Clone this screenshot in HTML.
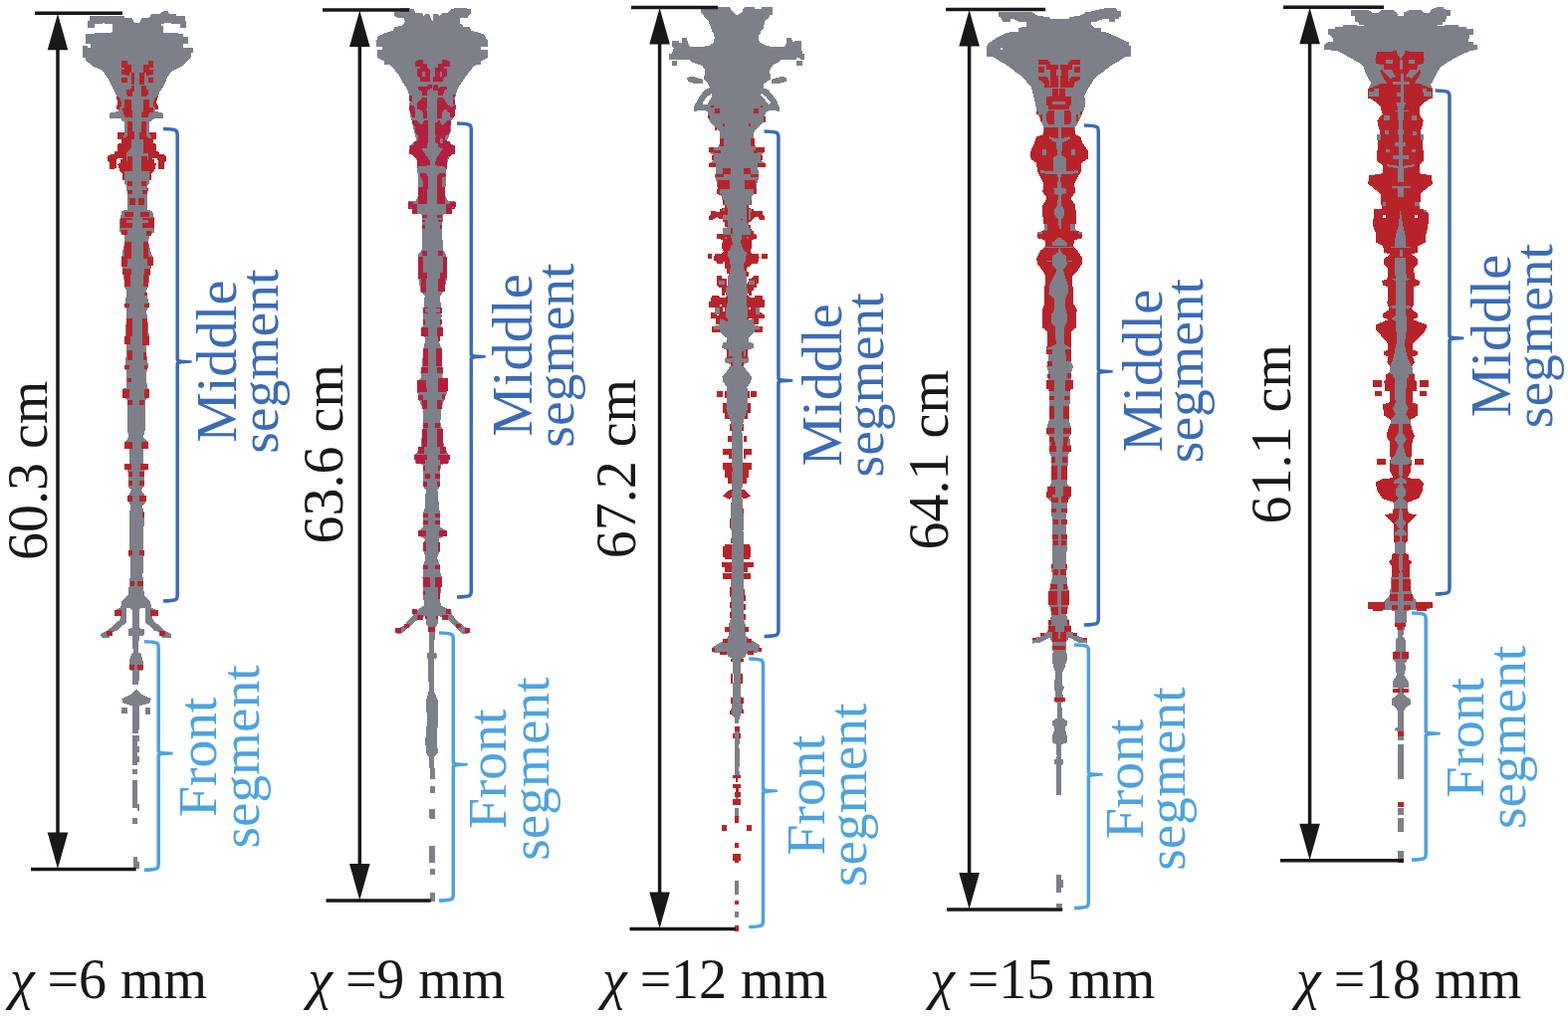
<!DOCTYPE html>
<html><head><meta charset="utf-8"><title>figure</title>
<style>
html,body{margin:0;padding:0;background:#fff;}
body{width:1575px;height:1024px;overflow:hidden;}
svg{display:block;font-family:"Liberation Serif",serif;}
</style></head><body>
<svg width="1575" height="1024" viewBox="0 0 1575 1024">
<rect width="1575" height="1024" fill="#fff"/>
<g id="jets" shape-rendering="crispEdges">
<g id="jet1">
<polygon points="90.2,16.4 90.2,21.1 88.2,21.5 88.2,27.8 94.9,27.8 94.9,23.9 102.8,23.5 103.6,22.7 105.1,23.9 113,23.9 113,31 111.8,32.9 98,33.3 86.2,34.1 86.2,43.6 91,43.6 91,48.1 87.8,48.1 87.8,46.3 83.2,46.3 83.2,57.7 86.2,58.5 86.2,60.5 90.2,64 94.1,67 102.9,70.7 107,76.9 110.1,82 113.1,88.1 116.2,94.3 118.3,100.4 119.3,106.6 118.9,111.7 110.1,113.8 110.1,118.5 121.3,118.9 122.4,120.9 125.4,131.2 118.3,133.2 118.3,139.4 121.3,143.5 117.2,152.7 108,157.4 110.1,169.1 116.2,169.1 117.2,163 119.7,164 120.3,172.2 123.4,174.2 124.4,180.4 127.5,184.5 127.5,209.9 148,209.9 148,184.5 151.1,180.4 152.1,174.2 155.2,172.2 156.2,164 159.3,164 160.3,169.1 166.4,169.1 166.4,156.8 158.2,151.7 154.1,143.5 156.2,139.4 156.2,133.2 150,131.2 152.1,120.9 156.2,118.9 164.4,118.9 164.4,113.8 156.2,111.7 156.2,106.6 158.2,98.4 160.3,92.2 163.4,88.1 166.4,82 168.5,76.9 172.6,71.7 182.3,67 186.2,63.3 189.4,60.1 191.7,57.7 191.7,53 193.7,52.6 193.7,48.1 183.9,47.9 183.9,43.6 189,43.6 189,36.5 184.3,36.5 183.9,34.1 176.8,33.3 163.8,32.9 163.8,26.3 161.8,25.9 161.8,23.9 171.3,22.7 172.4,23.5 181.1,23.9 181.1,27.8 187,27.8 187,21.5 185.8,21.1 185.8,16.4 177.2,16.4 176.8,14.4 170.5,14.1 168.5,11.3 164.2,11.3 159.8,14.1 152,14.4 150,18 142.1,18.4 140.2,23.1 135,23.1 132.7,18.4 124.8,18 124.8,16.2" fill="#7d8088"/>
<path d="M126.5 157.8H132.6V170.1H126.5ZM142.9 157.8H148V170.1H142.9ZM128.5 181.4H132.6V186.5H128.5ZM142.9 181.4H147V186.5H142.9ZM128.5 190.6H132.6V195.8H128.5ZM142.9 190.6H147V195.8H142.9ZM129.5 198.8H134.7V206H129.5ZM139.8 198.8H144.9V206H139.8Z" fill="#b8232a"/>
<polygon points="118.3,133.2 124.4,133.2 124.4,139.4 133.6,139.4 133.6,147.6 127.5,155.8 121.3,161.9 119.7,170.1 116.2,169.1 116.2,161.9 110.1,169.1 108,157.8 117.2,152.7 121.3,143.5 118.3,139.4" fill="#b8232a"/>
<polygon points="156.2,133.2 150,133.2 150,139.4 140.8,139.4 140.8,147.6 147,155.8 153.1,161.9 155.2,170.1 159.3,169.1 159.3,163 163.4,169.1 166.4,169.1 166.4,156.8 158.2,151.7 154.1,143.5 156.2,139.4" fill="#b8232a"/>
<polygon points="122.1,60.5 128,60.5 128,64.8 131.9,65.2 131.9,72.6 130,73 130,75.7 122.1,75.3 122.1,70.2 124.9,69.8 124.9,67.9 122.1,67.5" fill="#b8232a"/>
<polygon points="127.2,90.5 131.9,89.4 132.3,86.2 135,86.2 135,91.7 133.1,92.5 133.1,96.8 128,96.8 127.2,94.1" fill="#b8232a"/>
<polygon points="125.3,100.3 131.9,100.3 132.1,109.7 133.1,112.8 133.1,119.8 131.9,117.5 125.7,117.5 122.1,108.9 125.3,108.1" fill="#b8232a"/>
<polygon points="117.1,97.2 119.8,97.6 121.8,102.7 121.8,106.6 119.8,108.1 119.8,110.1 117.1,110.1 117.5,105.8 118.2,103.4" fill="#b8232a"/>
<polygon points="128,122.2 133.1,122.2 133.1,131.6 135,132.3 135,135 128,135" fill="#b8232a"/>
<polygon points="154.2,60.5 149.1,60.5 149.1,64.8 144,65.2 144,72.6 146.8,73 146.8,75.7 154.2,75.3 154.2,70.2 149.9,69.8 149.9,67.9 154.2,67.5" fill="#b8232a"/>
<polygon points="142.1,86.2 146.8,86.2 147.1,89.4 149.1,90.9 149.1,94.1 146.8,96.8 142.1,96.8" fill="#b8232a"/>
<polygon points="144,100.3 149.9,100.3 149.9,108.1 154.2,108.5 153.8,112.8 149.9,113.2 149.1,117.5 142.1,117.5 142.1,113.6 144,111.2" fill="#b8232a"/>
<polygon points="158.9,97.2 156.1,97.6 154.2,102.7 154.2,106.6 156.1,108.1 156.1,110.1 158.9,110.1 158.5,105.8 156.9,103.4" fill="#b8232a"/>
<polygon points="142.1,122.2 147.1,122.2 147.1,135 140.1,135 140.1,132.7 142.1,132.3" fill="#b8232a"/>
<path d="M122.1 78H128V82.7H122.1ZM132.1 73H135V84.7H132.1ZM118.2 133.1H124.9V135H118.2ZM149.1 78H154.2V82.7H149.1ZM140.1 73H145.2V84.7H140.1ZM150.3 133.1H156.9V135H150.3Z" fill="#b8232a"/>
<path d="M103 121.9H171.8V196.1H103Z" fill="#fff"/>
<polygon points="125.3,121.9 125.3,133.2 118.2,133.2 118.2,139.9 122.1,139.9 122.1,144.2 118.2,144.6 118.2,151.6 115.1,152.4 114.7,154.7 110.8,155.5 108.1,157.1 108.1,161.8 110,164.1 110.4,169.6 114.7,169.6 117.1,168.8 117.1,161.8 117.8,159 122.9,158.6 122.9,159.8 120.6,160.2 120.6,164.1 118.2,164.9 120.2,171.9 122.9,174.2 123.2,180.5 124.9,180.5 125.3,185.2 126.8,186 128,196.1 147.1,196.1 148.3,186 149.9,184.4 149.9,180.5 151.8,180.5 152.2,174.2 155,171.9 156.9,164.5 155,164.1 155,160.6 153,160.2 153,159 157.7,159.4 158.9,161.8 159.2,169.6 164.7,169.6 165.1,164.1 166.7,161.8 166.7,157.1 164.7,155.5 160.8,155.1 158.9,152.4 156.9,151.6 156.9,144.6 154.2,144.2 154.2,140.3 156.9,139.9 156.9,133.2 149.9,133.2 149.9,121.9" fill="#b8232a"/>
<polygon points="133.1,121.9 142.1,121.9 142.1,132.5 140.1,132.8 140.1,139.9 143.6,140.3 144,153.9 149.1,154.3 149.1,161.4 147.5,161.4 147.5,157.1 142.1,157.1 142.1,171.9 149.9,171.9 149.9,184.4 148.3,186 147.1,196.1 128,196.1 126.8,186 125.3,185.2 124.9,171.9 133.1,171.9 133.1,157.1 128,157.1 128,161.8 126.8,161.8 126.8,154.3 128,152.4 130,150 131.9,149.2 132.3,140.3 135,139.9 135,132.5 133.1,132.1" fill="#7d8088"/>
<polygon points="125.3,121.9 128,121.9 128,136 126.4,138.3 123.7,138.7 123.3,136 124.9,135.6 125.3,133.2" fill="#7d8088"/>
<polygon points="149.9,121.9 147.1,121.9 147.1,136.8 149.1,138.7 151.8,138.7 151.8,135.6 149.9,135.2" fill="#7d8088"/>
<path d="M128 182.1H133.1V186.8H128ZM142.1 182.1H147.1V186.8H142.1ZM128 191H133.1V196.1H128ZM142.1 191H147.1V196.1H142.1ZM147.1 188.7H148.7V191.8H147.1Z" fill="#b8232a"/>
<polygon points="127.5,190 127.5,210.5 122.4,212.1 120.3,220.7 120.3,233 125.4,237.1 125.4,243.3 123.4,251.5 121.8,261.7 123.4,267.9 123.4,272 125.4,288.4 127.5,292.5 125.4,306.8 127.5,313 127.1,319.1 125.4,339.6 127.5,347.8 127.1,354 125.4,368.3 127.1,374.5 126.5,395 124.4,399.9 150,399.9 148,395 147,374.5 149,368.3 147,354 147,347.8 150,339.6 148,319.1 147,313 150,306.8 147,292.5 149,288.4 151.1,272 152.1,267.9 154.1,261.7 151.1,251.5 149,243.3 150,237.1 155.2,233 155.2,220.7 153.1,212.1 148,210.5 148,190" fill="#7d8088"/>
<path d="M127.5 191H132.6V195.1H127.5ZM142.9 191H148V195.1H142.9ZM129.5 199.2H135.7V206.4H129.5ZM138.8 199.2H144.9V206.4H138.8ZM125.4 212.5H133.6V217.7H125.4ZM120.9 218.7H132.6V228.9H120.9ZM122.4 231H127.5V236.1H122.4ZM140.8 212.5H150V217.7H140.8ZM142.9 218.7H154.8V228.9H142.9ZM147 232H152.1V237.1H147ZM125.4 243.3H131.6V259.7H125.4ZM122.4 257.6H127.5V267.9H122.4ZM143.9 243.3H149V259.7H143.9ZM148 257.6H153.7V266.9H148ZM123.4 270.4H131.6V276.1H123.4ZM125.4 276.1H131.2V288.4H125.4ZM144.9 270.4H151.1V276.1H144.9ZM143.9 276.1H149V288.4H143.9ZM144.9 293.5H148V296.6H144.9ZM125.4 305.2H130V309.3H125.4ZM144.9 305.2H150V309.3H144.9ZM127.1 320.2H132.6V337.6H127.1ZM125.4 337.6H131.2V345.8H125.4ZM142.9 320.2H148V337.6H142.9ZM142.9 337.6H149.6V346.8H142.9ZM127.5 351.9H132.6V362.2H127.5ZM143.9 354H147V362.2H143.9ZM125.4 367.3H129.5V371.4H125.4ZM144.9 367.3H148V371.4H144.9ZM127.5 379.6H131.6V383.7H127.5ZM124.4 391.9H129.5V399.9H124.4ZM144.9 391.9H150V399.9H144.9Z" fill="#b8232a"/>
<path d="M126.5 221.2H132.6V224H126.5ZM142.9 221.2H149V224H142.9Z" fill="#7d8088"/>
<polygon points="124.4,390 123.4,398.2 127.5,402.3 127.5,431 129.5,439.2 125.4,444.3 125.4,450.5 130,451.5 130,465.8 125.4,466.9 128.5,474 128.5,488.4 131.6,492.5 128.5,498.6 128.5,503.8 131.6,508.9 130,515 130,551.9 128.5,554 128.5,558.1 130.6,560.1 130.6,574.5 131.6,582.7 130,584.7 130,599.9 144.9,599.9 143.9,584.7 142.3,582.7 143.9,574.5 143.9,560.1 144.9,558.1 144.9,554 143.9,551.9 144.9,515 142.9,508.9 147,503.8 147,499.7 141.8,492.5 144.9,488.4 144.9,474 149,466.9 143.9,465.8 143.9,451.5 149,450.5 149,444.3 143.9,439.2 145.9,431 145.9,402.3 150,398.2 149,390" fill="#7d8088"/>
<path d="M123.4 391H129.5V400.2H123.4ZM144.9 391H150V400.2H144.9ZM127.9 402.3H133.2V406.8H127.9ZM139.8 402.3H144.9V406.8H139.8ZM125.4 444.3H132.6V450.9H125.4ZM141.8 444.3H149V450.9H141.8ZM125.4 466.3H132V472H125.4ZM140.8 466.3H149V472H140.8ZM128.5 473.6H133.2V478.6H128.5ZM139.8 473.6H144.9V478.6H139.8ZM128.5 483.3H133.2V488H128.5ZM139.8 483.3H144.9V488H139.8ZM128.1 498.2H133.2V504.4H128.1ZM140.2 498.2H147V504.4H140.2ZM142.9 515H144.9V520.2H142.9ZM128.5 553H133.2V557.7H128.5ZM139.8 553H144.9V557.7H139.8ZM130 583.7H134.7V588.8H130ZM138.2 583.7H143.9V588.8H138.2Z" fill="#b8232a"/>
<polygon points="130.6,580 143.9,580 144.3,598.4 151.1,604.2 152.1,610.7 142.3,610.7 139.8,612.8 139.8,631.2 144.9,632.3 144.9,638.4 139.8,639.4 138.8,655.8 141.8,656.9 143.5,664 143.5,673.3 139.8,674.3 139.4,687.6 133.2,687.6 132.6,674.3 130,673.3 130,664 132,656.9 133.6,655.8 133.2,639.4 128.5,638.4 128.5,632.3 132.6,631.2 132.6,612.8 130.6,610.7 121.3,610.7 122.4,604.2 128.5,598.4" fill="#7d8088"/>
<polygon points="121.3,610.7 127.5,610.7 127.1,626.1 121.8,629.2 118.3,633.7 112.7,634.9 109.5,640.9 101.9,641.5 101.3,637 108,633.7 114.8,627.6 120.3,623 120.9,618.9 115.6,617.9 116.2,612.8" fill="#7d8088"/>
<polygon points="152.1,610.7 145.5,610.7 145.9,626.1 151.1,629.2 154.6,633.7 159.9,634.9 162.7,640.9 171.6,641.5 172.2,637 165.4,633.7 158.7,627.6 153.7,623 153.1,618.9 158.7,617.9 157.2,612.8" fill="#7d8088"/>
<polygon points="136.7,692.7 142.3,697.9 151.7,702 151.1,706.1 144.9,708.1 140.2,709.1 139.4,736.8 133.2,736.8 133.2,709.1 128.5,708.1 123,706.1 122.4,702 131.6,697.9" fill="#7d8088"/>
<path d="M122.4 711.2H127.5V717.3H122.4ZM145.9 711.2H151.1V718.4H145.9Z" fill="#7d8088"/>
<path d="M130.6 584.1H135.3V589.2H130.6ZM138.2 584.1H143.9V589.2H138.2ZM115.2 612.8H122.4V618.9H115.2ZM150.5 612.8H158.7V618.9H150.5ZM107 633.7H112.7V639.4H107ZM160.3 633.7H166V639.4H160.3ZM130 667.7H135.3V673.3H130ZM138.2 667.7H143.9V673.3H138.2Z" fill="#b8232a"/>
<path d="M133.2 739.2H138.2V768.9H133.2ZM138.2 739.2H139.8V745.4H138.2ZM138.2 749.5H139.8V755.6H138.2ZM138.2 759.7H139.8V765.9H138.2ZM133.2 773H138.2V777.6H133.2ZM133.2 784.3H138.2V812H133.2ZM138.2 807.9H139.8V815.1H138.2ZM133.2 822.2H138.2V828.4H133.2ZM133.6 861.2H138.2V872.5H133.6ZM138.2 866.3H139.8V872.5H138.2Z" fill="#7d8088"/>
</g>
<g id="jet2">
<polygon points="402.3,8.4 402.3,11.7 396,11.7 396,15.6 399.2,17.6 406.2,18 406.6,22.3 403.5,25.8 396.4,27.4 394.8,30.6 388.9,32.5 384.2,34.1 379.1,37.2 378.3,40.8 378.3,46.7 384.2,47.1 384.2,49.8 379.2,50.1 379.2,58.1 383.8,60.1 386.2,61.7 386.2,65 392.7,65.6 396.8,70.7 400.9,75.8 404,82 408.1,88.1 410.8,94.3 411.6,102.5 410.8,106.6 412.2,116.8 414.3,123 415.7,131.2 418.4,141.4 411.2,146.6 411.2,153.7 417.3,157.8 419.4,164 419.4,172.2 420.4,184.5 420.4,196.8 417.3,201.9 409.6,202.9 409.6,209.9 457.3,209.9 457.3,202.9 450.1,201.9 447.1,196.8 447.7,184.5 448.1,172.2 449.1,164 451.2,157.8 456.3,153.7 456.3,146.6 449.1,141.4 453.2,131.2 452.2,123 456.7,116.8 457.9,106.6 456.7,102.5 457.9,94.3 460.4,88.1 464.5,82 468.6,75.8 472.7,70.7 476.8,65.6 482.6,65 482.6,61.7 485.4,60.1 489.7,58.1 489.7,50.1 482.6,49.8 482.6,47.1 489.7,46.7 489.7,40.8 487.7,36.9 485.4,34.1 479.9,32.5 473.2,30.6 472,27.2 465.3,27 464.9,24.7 461.8,23.9 461.8,21.5 462.5,18 469.6,17.6 472.8,13.6 472.8,9.3 466.9,8.1 457.4,8.1 453.1,9.3 449.9,12.8 443.3,13.6 441.7,16 439.7,14.4 435.4,14.4 435,21.1 433.8,21.1 431.4,14.4 427.1,14.4 425.5,16 424,13.2 417.3,12.8 415.7,9.3 411.4,8.4" fill="#7d8088"/>
<path d="M409.6 202.9H417.3V209.9H409.6ZM450.1 201.9H457.3V209.9H450.1Z" fill="#b51f3e"/>
<polygon points="417,62 419.7,60.5 424.8,60.1 425.2,63.6 429.1,64 429.5,68.3 431.8,70.2 431.8,81.6 422,81.6 421.7,77.7 419.2,76.9 419.2,69.5 422.4,69.1 422.4,66.7 417,66.7" fill="#b51f3e"/>
<polygon points="452.1,62.4 449,60.5 444.3,60.1 444.2,64 440.4,64.4 440,67.5 437.3,67.9 437.1,76.1 435.1,77.7 435.1,81.6 445.1,81.6 445.9,77.3 449,76.5 449,69.5 445.5,69.1 445.9,66.7 452.1,66.7" fill="#b51f3e"/>
<polygon points="420.1,87 428.7,86.6 430.2,85.1 433.8,85.1 433.8,88.6 429.5,90.9 429.1,95.6 424,95.6 423.8,92.5 420.1,89.4" fill="#b51f3e"/>
<polygon points="435.1,86.2 437.3,85.1 439.6,85.1 440,89.4 442.8,87 449,87 449,89.4 445.9,91.7 445.1,95.6 440.4,95.6 440,90.9 435.1,90.5" fill="#b51f3e"/>
<polygon points="419.2,103 424,98.4 429.1,98.4 429.1,108.9 427.1,109.7 429.1,111.2 429.1,118.7 424.8,118.7 424.4,111.2 419.2,109.7" fill="#b51f3e"/>
<polygon points="439.6,98.4 445.1,98.4 449.8,105 453.7,108.1 455.2,105.8 458,106.2 457.6,109.7 456.4,117.9 452.5,117.9 452.1,113.6 449.8,112.8 449,109.7 445.9,109.7 443.9,114.4 443.5,118.7 439.2,118.7 438.8,108.1" fill="#b51f3e"/>
<polygon points="411.1,106.2 415.8,105.8 417,109.7 416.6,117.5 414.2,117.5 411.5,111.2" fill="#b51f3e"/>
<polygon points="413.8,121.4 418.5,121 421.7,124.5 424,125.3 425.6,121.4 427.1,121.4 429.9,124.5 429.9,135 417.8,135 417,126.9 414.2,125.3" fill="#b51f3e"/>
<polygon points="436.9,124.5 440.4,121.4 442.4,121.4 442.8,125.3 445.1,125.7 447.4,123 449,121 452.9,121.4 452.9,125.3 451.3,126.9 450.6,135 436.9,135" fill="#b51f3e"/>
<path d="M411.1 96.4H413.8V102.3H411.1ZM454.9 94.8H456.8V98.4H454.9ZM454.9 100.3H456.8V105H454.9Z" fill="#b51f3e"/>
<path d="M424 71.8H427V77.3H424ZM442 71.8H444.2V77.3H442Z" fill="#7d8088"/>
<polygon points="414.2,121.5 418.9,121.5 420.9,125 424,125.8 426,122.7 426,121.1 429.9,121.1 430.2,137.5 429.5,143.8 428.7,148.5 424,149.6 424.8,152.4 426.7,154.7 429.9,158.6 431.8,161.8 431.8,166.4 420.1,166.8 419.2,169.6 419.2,159 417.4,158.6 414.2,155.5 411.1,154.7 411.9,146.5 416.2,146.1 416.2,142.2 419.9,141.4 419.9,133.2 417.4,132.5 417.4,125.8 414.2,125.4" fill="#b51f3e"/>
<polygon points="452.9,121.5 449,121.5 445.9,125 443.9,127.8 442.8,125.8 441.2,122.7 437.3,123.1 437.1,135.6 438.8,136.8 437.3,138.7 437.1,143 440,144.6 440.4,148.1 445.1,149.2 442.8,152.4 438.8,158.6 437.1,163.3 437.1,166.4 445.1,166.8 446.8,168 449,171.1 449,161.8 449.8,157.5 452.9,156.7 452.9,155.5 456.8,154.7 456.8,146.5 452.9,146.1 452.1,142.2 446.7,141 446.7,136.4 449,135.6 449,133.2 451.7,132.5 451.7,126.2 452.9,125.8" fill="#b51f3e"/>
<polygon points="422.4,174.2 427.9,174.2 429.9,177.4 429.9,198 420.5,198 420.1,188.3 424.8,187.5 424.8,182.8 422.4,177.4" fill="#b51f3e"/>
<polygon points="439.2,175.8 441.2,174.2 448.2,174.6 448.6,177.4 444.3,177.8 443.9,187.5 446.7,187.9 446.8,198 440,198 439.2,188.3" fill="#b51f3e"/>
<path d="M441.8 139.1H444.7V143.8H441.8Z" fill="#7d8088"/>
<polygon points="420.4,190 420.4,201.3 410.2,202.3 409.6,207.4 414.3,209.5 414.9,214.6 423.5,215.6 424.5,231 423.5,251.5 420.4,255.6 420.4,280.2 422.5,292.5 426.6,297.6 425.5,308.9 425.1,317.1 425.5,327.3 422.5,330.4 422.5,335.5 427.6,339.6 425.5,349.9 423.5,370.4 422.5,374.5 423.5,378.6 419.4,382.7 420.4,395 421.4,399.9 446,399.9 449.1,395 450.1,382.7 444,378.6 445,374.5 444,370.4 443,349.9 439.9,339.6 445,335.5 445,330.4 443,327.3 443.6,317.1 443,308.9 441.9,297.6 446,292.5 449.1,280.2 448.1,255.6 445,251.5 444,231 445,215.6 453.8,214.6 454.2,209.5 457.9,207.4 457.3,202.3 447.1,201.3 447.1,190" fill="#7d8088"/>
<path d="M420.4 190H428.6V205.4H420.4ZM438.9 190H447.1V205.4H438.9ZM409.6 202.7H414.9V208H409.6ZM414.3 205.4H419.4V215H414.3ZM452.2 202.7H457.9V208H452.2ZM448.1 205.4H454.2V214.6H448.1ZM423.9 215.6H428.6V218.7H423.9ZM438.9 215.6H444.4V218.7H438.9ZM423.9 220.7H427.2V222.8H423.9ZM439.9 220.7H444.4V222.8H439.9ZM423.9 225.9H426.6V230H423.9ZM441.5 225.9H444.4V230H441.5ZM423.5 252.1H428.6V256.6H423.5ZM439.9 252.1H445V256.6H439.9ZM420.4 257.6H424.5V274H420.4ZM420.4 274H428.6V280.2H420.4ZM422.5 280.2H427.6V293.5H422.5ZM445 257.6H449.1V274H445ZM441.9 274H449.1V280.2H441.9ZM439.9 280.2H446.5V292.5H439.9ZM425.1 308.5H429.6V309.9H425.1ZM425.1 308.5H426.6V315.4H425.1ZM425.1 314H429.6V315.4H425.1ZM438.3 308.5H443.6V309.9H438.3ZM441.9 308.5H443.6V315.4H441.9ZM438.3 314H443.6V315.4H438.3ZM425.1 321.2H427.2V326.3H425.1ZM441.5 321.2H443.6V326.3H441.5ZM422.5 329.4H429.6V337.6H422.5ZM438.9 329.4H445V337.6H438.9ZM439.5 337.6H441.5V342.7H439.5ZM424.5 349.9H429.6V368.3H424.5ZM437.8 349.9H443.6V368.3H437.8ZM422.5 369.4H429.6V374.5H422.5ZM438.9 369.4H445V374.5H438.9ZM419.4 381.7H427.6V395H419.4ZM439.9 379.6H449.7V392.9H439.9ZM420.4 396H424.5V399.9H420.4ZM444 396H447.1V399.9H444Z" fill="#b51f3e"/>
<polygon points="420.4,390 420.4,400.2 424.5,410.5 425.5,424.8 424.5,431 422.5,449.4 416.3,457.6 417.3,464.8 424.5,466.9 425.5,476.1 425.1,488.4 427.6,492.5 427.2,508.9 425.1,515 425.5,529.4 420.4,533.5 421.4,538.6 426.6,541.7 425.5,554 427.6,560.1 425.1,568.3 425.1,574.5 424.5,580.6 425.5,592.9 426.6,599.9 440.9,599.9 441.9,592.9 444,580.6 441.9,574.5 441.9,568.3 438.9,560.1 441.9,554 440.9,541.7 447.1,538.6 448.1,533.5 441.9,529.4 441.9,515 440.9,508.9 439.5,492.5 441.9,488.4 441.9,476.1 443,466.9 451.2,464.8 451.2,457.6 446,449.4 444,431 442.4,424.8 443,410.5 447.1,400.2 448.1,390" fill="#7d8088"/>
<path d="M420.4 390H428.6V394.1H420.4ZM439.9 390H448.1V394.1H439.9ZM420.4 397.2H424.5V402.3H420.4ZM444 396.1H447.1V401.3H444ZM423.5 402.3H429.2V410.5H423.5ZM438.9 402.3H444V410.5H438.9ZM425.1 425.3H429.6V430H425.1ZM436.8 425.3H441.9V430H436.8ZM423.5 431H428.6V449.4H423.5ZM438.9 431H445V449.4H438.9ZM420.4 449.4H426V455.6H420.4ZM442.4 449.4H448.1V455.6H442.4ZM416.3 457.2H428.6V461.7H416.3ZM417.8 461.7H426.6V466.3H417.8ZM439.9 457.2H451.8V461.7H439.9ZM441.9 461.7H450.1V466.3H441.9ZM425.1 467.5H427.2V473H425.1ZM439.9 467.5H441.9V473H439.9ZM427.2 476.1H432.1V481.2H427.2ZM436.8 476.1H441.9V481.2H436.8ZM425.1 484.3H429.2V488.8H425.1ZM438.9 484.3H441.9V488.8H438.9ZM425.1 516.1H429.6V519.5H425.1ZM436.8 516.1H441.9V519.5H436.8ZM425.1 523.2H430.1V527.3H425.1ZM436.8 523.2H441.9V527.3H436.8ZM420.4 533.1H427.6V538.6H420.4ZM440.9 533.1H448.5V538.6H440.9ZM425.1 544.8H427.6V554H425.1ZM439.9 544.8H441.9V554H439.9ZM425.1 567.9H429.6V572.4H425.1ZM437.4 567.9H441.9V572.4H437.4ZM424.5 579.6H430.7V589.9H424.5ZM437.8 579.6H444V589.9H437.8ZM425.5 592.9H428.6V597H425.5ZM438.9 592.9H441.9V596H438.9Z" fill="#b51f3e"/>
<polygon points="424.5,580 444,580 441.9,602.5 443,608.7 450.1,611.8 458.3,623 468.6,631.2 470.6,636.4 465.5,637.4 456.3,629.2 448.1,621 439.9,618.9 439.5,627.1 436.8,631.2 436.2,655.8 438.9,656.9 438.9,661 436.2,662 436.2,694.8 439.5,703 439.9,723.5 438.9,744 439.9,756.3 436.2,760.4 436.2,771.7 430.7,771.7 430.7,760.4 428,756.3 427.2,744 429.2,723.5 427.6,705 430.7,694.8 430.1,662 428.6,661 428.6,656.9 430.7,655.8 430.7,631.2 428,627.1 427.6,618.9 421.4,621 413.2,628.2 405,635.3 399.9,637.8 397.3,633.7 406.1,628.2 414.3,618.9 420.4,611.8 425.5,608.7 425.5,602.5" fill="#7d8088"/>
<path d="M424.5 580H431.7V590.2H424.5ZM436.8 580H444V590.2H436.8ZM424.5 594.3H427.2V598.4H424.5ZM439.5 590.2H441.9V601.5H439.5ZM413.7 612.4H419V616.9H413.7ZM448.1 612.4H453.2V616.9H448.1ZM419 617.9H424.5V622.6H419ZM444 617.9H449.7V622.6H444ZM406.1 626.7H411.2V630.8H406.1ZM457.9 626.7H462.8V630.8H457.9ZM397.3 631.2H402.6V635.8H397.3ZM466.5 631.2H472.3V635.8H466.5ZM430.1 629.6H436.8V634.9H430.1ZM427.2 618.9H429.2V622H427.2ZM438.3 618.9H439.9V622H438.3Z" fill="#b51f3e"/>
<path d="M432.1 772.3H436.8V783H432.1ZM432.1 789.7H436.8V796.5H432.1ZM430.7 812.9H436.8V821.5H430.7ZM432.1 812.9H436.8V822.5H432.1ZM430.7 850.2H436.8V866.6H430.7ZM432.1 873.1H436.8V878.5H432.1ZM432.1 897.3H436.8V905.9H432.1Z" fill="#7d8088"/>
</g>
<g id="jet3">
<polygon points="721.3,7.1 704.3,9.4 704.3,12.7 706.6,15 708.4,18.2 711.2,20 712.1,23.7 714,27.4 714.9,30.6 717.2,34.3 717.6,38.4 717.2,42.6 712.1,45.8 705.7,47 692.8,47 691.1,43.5 689.8,38.4 685,38.4 685,42.6 682.2,43 681.7,41.2 675.3,41.2 675.3,47.2 676.7,48.1 674.8,53.6 672.1,54.6 672.1,59.6 679,59.9 692.8,60.1 695.5,62.8 698.8,63.8 705.7,66.1 707.5,69.3 707.5,76 706.9,79.9 710,82 713.1,88.1 707.9,90.2 701.8,98.4 696.7,107.6 696.7,112.3 702.8,110.7 711,111.7 711,114.8 713.1,123 718.2,128.1 723.3,133.2 723.3,143.5 721.3,147.6 712.5,148.6 712.5,153.7 716.1,155.8 716.1,161.9 712.5,164 712,167.1 719.2,168.1 718.2,178.3 720.2,184.5 721.3,194.7 725.4,201.9 726.4,209.9 753,209.9 754.1,201.9 759.2,194.7 760.2,184.5 762.3,178.3 761.2,168.1 768.4,167.1 768.4,164 765.3,161.9 764.3,155.8 767.4,153.7 767.4,148.6 759.2,147.6 757.1,143.5 757.1,133.2 761.2,128.1 766.4,123 768.4,114.8 770.5,111.7 777.6,110.7 782.8,112.3 782.8,107.6 779.7,100.4 771.5,90.2 766.4,88.1 767.4,84 773.5,79.9 774.3,76 772.9,73 773.8,69.3 776.1,65.6 781.2,62.8 784.8,60.1 799.6,59.6 799.6,58.2 802.8,58.2 804.2,59.6 807.9,59.6 807.9,54.1 806,53.6 804.9,48.1 804.6,41.2 798.2,41.2 796.8,42.6 795,38.4 790.4,38.4 789.4,45.3 786.7,47.2 773.8,46.7 769.2,45.8 766,44 762.7,42.6 761.8,35.7 763.7,33.4 764.6,30.2 766.9,28.8 767.8,22.8 769.2,20 772,18.2 773.3,15.4 776.1,14.5 776.1,7.1 765.3,7.1 765,9.3 758.1,9.3 757.7,7.1 748.9,7.1 746.2,9.3 745.7,11.7 741.1,15 739.3,15 735.1,10.4 732.8,7.1" fill="#7d8088"/>
<path d="M675.1 61H679.9V65.8H675.1ZM800.3 61H805.8V65.8H800.3Z" fill="#7d8088"/>
<polygon points="714.7,93.8 715.4,95.9 710.9,104.6 706.7,105 705.8,102.7 710.1,97.4" fill="#fff"/>
<polygon points="765,93.8 764.2,95.9 768.8,100.8 772.6,105 774.1,103.1 769.9,97.8" fill="#fff"/>
<polygon points="690.1,77.9 695.6,76.9 705.9,79.9 705.9,84 699.7,84.5 691.1,82" fill="#7d8088"/>
<polygon points="789.9,77.9 784.8,76.9 774.6,79.9 774.6,84 780.7,84.5 789.5,82" fill="#7d8088"/>
<path d="M713.7 106.2H716.6V108.2H713.7ZM717.8 108.6H722.7V113.8H717.8ZM711 115.8H713.1V118.9H711ZM718.2 128.1H720.2V131.2H718.2ZM726 124H728V126.7H726ZM757.1 108.6H762.3V113.8H757.1ZM763.7 106.2H765.7V108.2H763.7ZM767 116.8H769V123H767ZM752 124H754.1V126.7H752ZM723.3 139.4H727.4V146.6H723.3ZM754.1 139.4H757.6V146.6H754.1ZM712 148H716.6V152.7H712ZM716.6 150.7H724.3V153.7H716.6ZM759.2 148H767.8V152.7H759.2ZM757.1 150.7H761.2V153.7H757.1ZM715.1 155.8H717.2V160.9H715.1ZM763.7 155.8H765.7V160.9H763.7ZM712 164H719.2V167.7H712ZM761.2 164H769V167.7H761.2ZM726 168.5H733.6V175.3H726ZM746.9 168.5H754.1V175.3H746.9ZM719.2 175.3H727.4V178.3H719.2ZM754.1 175.3H761.7V178.3H754.1ZM721.3 181.4H732.5V189.6H721.3ZM747.9 181.4H759.2V189.6H747.9ZM720.2 190.6H723.3V194.7H720.2ZM757.1 190.6H759.6V194.7H757.1ZM726.4 201.9H728.4V207H726.4ZM750.6 201.9H752.6V207H750.6ZM724.8 208.1H728.4V209.9H724.8ZM751 208.1H754.1V209.9H751Z" fill="#b8232a"/>
<polygon points="712,215.6 717.2,211.5 724.3,209.5 730.5,209.5 730.5,226.9 727.4,227.9 725.4,220.7 718.2,217.7 712.5,220.7" fill="#b8232a"/>
<polygon points="768.4,215.6 763.3,211.5 756.1,209.5 751,209.5 751,226.9 753,227.9 755.1,220.7 762.3,217.7 767.8,220.7" fill="#b8232a"/>
<path d="M720.2 190H725.4V195.1H720.2ZM756.1 190H760.2V195.1H756.1ZM720.2 235.1H734.6V241.2H720.2ZM725.4 241.2H734.2V259.7H725.4ZM717.2 254.6H731.5V264.8H717.2ZM727.4 264.8H732.5V274H727.4ZM745.9 235.1H759.2V241.2H745.9ZM746.5 241.2H754.1V259.7H746.5ZM748.9 254.6H763.3V264.8H748.9ZM747.9 264.8H752V274H747.9ZM711 255.2H715.1V259.7H711ZM765.3 255.2H770.5V259.7H765.3ZM720.2 277.1H728.4V287.4H720.2ZM724.3 287.4H730.5V294.5H724.3ZM751 277.1H761.2V287.4H751ZM750 287.4H756.1V294.5H750ZM713.1 296.6H730.5V308.9H713.1ZM715.1 308.9H728.4V321.2H715.1ZM717.2 321.2H725.4V327.3H717.2ZM715.7 327.3H724.3V333.5H715.7ZM750 296.6H767.8V308.9H750ZM751 308.9H767.4V321.2H751ZM756.1 321.2H764.3V327.3H756.1ZM757.1 327.3H765.7V333.5H757.1ZM720.2 392.9H726V398.1H720.2ZM754.1 392.9H759.6V398.1H754.1Z" fill="#b8232a"/>
<polygon points="723.3,190 726.4,200.2 730.5,210.5 730.5,220.7 727.4,228.9 726.4,235.1 732.5,239.2 734.2,251.5 731.5,261.7 731.5,272 734.6,280.2 730.5,288.4 728.4,296.6 730.5,304.8 730.5,321.2 724.3,329.4 725.4,337.6 730.5,341.7 725.4,344.8 725.4,349.9 730.5,351.9 730.5,358.1 728.4,360.1 728.4,364.2 734.6,366.3 730.5,372.4 725.4,378.6 726.4,383.7 730.5,389.9 729.5,399.9 751,399.9 750,389.9 754.1,383.7 755.1,378.6 750,372.4 745.9,366.3 752,364.2 752,360.1 751,358.1 751,351.9 757.1,349.9 757.1,344.8 751,341.7 756.1,337.6 756.1,329.4 751,321.2 750,304.8 752,296.6 751,288.4 746.9,280.2 748.9,272 747.9,261.7 746.5,251.5 747.9,239.2 754.1,235.1 752,228.9 751,220.7 751,210.5 755.1,200.2 758.2,190" fill="#7d8088"/>
<path d="M722.7 281.2H727.4V285.9H722.7ZM752 281.2H758.2V285.9H752ZM718.2 308.9H723.3V315H718.2ZM758.2 309.9H763.3V315H758.2Z" fill="#7d8088"/>
<path d="M723.3 307.9H727.4V313H723.3ZM754.1 307.9H758.2V313H754.1Z" fill="#fff"/>
<path d="M730.1 350.9H732.1V359.7H730.1ZM730.1 357.7H736.2V360.1H730.1ZM749.4 350.9H751.4V359.7H749.4ZM745.3 357.7H751.4V360.1H745.3ZM745.3 353H747.3V358.1H745.3ZM734.2 364.2H736.2V368.3H734.2ZM745.3 364.2H747.3V368.3H745.3ZM728.4 392.9H730.5V399.9H728.4ZM750.6 392.9H752.6V399.9H750.6ZM730.5 234.1H735V243.3H730.5ZM746.9 234.1H751V243.3H746.9ZM728.4 212.5H730.5V226.9H728.4ZM751 212.5H753V226.9H751Z" fill="#b8232a"/>
<path d="M704 190H774V270H704Z" fill="#fff"/>
<polygon points="723.1,190 723.1,195.9 725.1,197.8 725.5,200.5 728.2,200.9 728.2,205.6 730.2,206.4 731,212.7 731,215.8 726.3,216.2 726.3,221.2 731,221.2 731,228.3 725.9,229.5 725.5,236.1 733.7,236.1 734.9,240 736,244.7 734.1,247.8 732.9,251.7 731,252.5 731.3,257.2 733.3,261.9 733.7,270 746.6,270 747,264.2 749.3,261.9 749.7,253.3 747.8,252.5 746.2,249.4 744.2,244.7 744.6,240 745.4,236.1 754,236.1 754,229.1 752,225.9 752,224.4 750.1,223.6 749.7,212.7 750.1,206.4 754,205.6 754.8,200.5 755.2,197.8 757.1,195.9 757.1,190" fill="#7d8088"/>
<polygon points="728.2,206 730.2,206.4 731,212.7 731,215.8 726.3,216.2 725.9,220.1 722.8,220.1 720.8,218.1 716.5,220.5 712.2,220.5 712.2,217 714.2,216.2 714.5,212.3 723.1,212.7 723.5,209.9 727.4,209.1" fill="#b8232a"/>
<polygon points="750.1,206.4 752,206.4 752,209.1 757.1,210.3 757.1,212.3 765.7,212.3 766.1,216.2 767.7,217 767.7,220.5 762.6,220.5 761.4,218.1 757.9,218.5 754.8,222 752,223.6 750.1,223.6" fill="#b8232a"/>
<polygon points="726.3,221.2 731,221.2 731,228.3 728.2,228.3 728.2,223.6 726.3,223.2" fill="#b8232a"/>
<polygon points="720,235.3 725.5,234.9 725.9,236.1 733.7,236.1 734.9,240 736,244.7 734.1,247.8 732.9,251.7 731,252.5 731.3,257.2 733.3,261.9 733.7,270 728.2,270 728.2,263.4 725.9,263 725.5,265.4 720.4,265.4 720,262.7 717.3,262.3 717.3,257.2 718.5,255.2 724.7,255.2 726.7,252.5 725.1,248.6 725.5,243.9 726.7,240.8 720.4,240" fill="#b8232a"/>
<polygon points="754,229.1 755.6,232.2 757.1,232.6 757.5,235.3 759.9,235.7 759.9,240 754.8,240.8 754.8,248.6 754,252.5 755.2,255.2 761.8,255.2 762.6,258 762.2,262.3 760.2,265.4 754.8,265.4 754,267.3 750.9,268.1 750.1,270 746.6,270 747,264.2 749.3,261.9 749.7,253.3 747.8,252.5 746.2,249.4 744.2,244.7 744.6,240 745.4,236.1 754,236.1" fill="#b8232a"/>
<path d="M720 190H723.1V194.7H720ZM722.4 194.7H724.7V195.9H722.4ZM757.1 190H759.9V194.7H757.1ZM726.3 200.9H728.2V205.6H726.3ZM754 200.9H755.2V205.6H754ZM752 225.9H754V229.1H752ZM734.1 229.1H736V234.9H734.1ZM743.8 219.7H746.2V221.2H743.8ZM711 255.2H714.9V259.5H711ZM765.3 255.2H770.8V259.5H765.3Z" fill="#b8232a"/>
<path d="M752.4 209.9H755.2V212.7H752.4ZM752 212.7H754V220.5H752ZM727.8 237.7H730.2V240H727.8ZM749.7 237.8H752V240H749.7ZM725.9 209.9H727.8V211.9H725.9Z" fill="#7d8088"/>
<path d="M704 270H774V350H704Z" fill="#fff"/>
<polygon points="720.4,277 724.7,277 725.1,279.8 729.8,280.2 730.2,287.2 731.3,288.8 729,290.3 728.2,296.6 725.5,296.6 725.1,289.1 722,288.8 720.4,287.2" fill="#b8232a"/>
<polygon points="761.8,277 757.9,277 755.2,279.8 751.7,280.2 750.1,287.2 747.4,288.8 750.9,290.3 751.7,296.6 754.8,296.6 755.2,292.3 757.1,291.9 757.5,289.1 759.9,288.8 760.2,285.2 761.8,284.8" fill="#b8232a"/>
<polygon points="715.7,297 722,297 722.8,298.9 729,299.3 729.8,297.3 731,297.3 731,304.4 729.8,306.7 729,313.8 729,318.4 731,320 731,323.1 728.2,322 723.1,320 722.8,326.2 718.5,326.2 718.8,324.7 718.5,320 714.2,319.6 714.2,314.1 718.1,314.1 720.4,316.9 722.8,316.1 722.8,309.1 715.7,308.7 712.2,308.7 712.2,303.2 714.2,302.8 714.5,299.3" fill="#b8232a"/>
<polygon points="765.7,297 758.7,297 757.9,298.9 754,298.9 750.9,297 750.1,297.3 749.7,304.4 750.5,307.5 750.9,313.8 750.9,318.4 750.1,320 750.1,323.9 752,323.1 752.4,320 757.1,320 757.5,326.2 761.8,326.2 762.2,320 767.7,319.6 767.7,316.5 765.7,316.1 765.3,314.1 763,313.8 763,309.1 767.7,308.7 768.1,301.2 766.1,300.5" fill="#b8232a"/>
<polygon points="715.3,328.2 717.3,328.2 717.3,330.5 723.1,330.9 723.1,333.7 715.3,333.7" fill="#b8232a"/>
<polygon points="765.7,328.2 763,328.2 763,330.5 757.9,330.9 757.9,333.7 765.7,333.7" fill="#b8232a"/>
<path d="M730.2 270H733.3V274.7H730.2ZM747 270H750.1V273.1H747ZM748.9 273.1H751.7V277.8H748.9ZM750.1 339.9H751.7V343.8H750.1ZM730.2 341.9H731V343.8H730.2Z" fill="#b8232a"/>
<polygon points="733.3,270 732.9,274.7 731,277.8 730.6,287.2 729,290.3 729,296.6 731,297.3 731,304.4 729.8,306.7 729,313.8 729,318.4 731,320 731,323.1 723.1,320 722.8,326.2 717.3,327.8 717.3,330.5 723.1,330.9 723.5,334.1 726.7,337.2 729.8,339.5 731,343.8 725.9,344.2 725.1,350 757.1,350 757.1,345 751.7,343.8 751.7,339.5 754,337.2 757.5,334.1 757.9,330.9 763,330.5 762.6,327.8 757.5,326.2 757.1,320 750.1,321.6 750.1,320 750.9,318.4 750.9,313.8 750.5,307.5 749.7,304.4 750.1,297.3 750.9,296.6 750.9,290.3 749.7,288 749.7,277.8 748.9,273.1 747,270" fill="#7d8088"/>
<path d="M722.4 282.1H727.8V285.6H722.4ZM752.4 282.1H757.9V285.6H752.4ZM718.1 309.1H722.8V316.1H718.1ZM758.7 309.1H763V315.7H758.7Z" fill="#7d8088"/>
<path d="M750.1 280.2H751.8V282.9H750.1ZM722.8 305.9H725.1V308.3H722.8ZM725.9 309.1H727.8V313H725.9ZM751.8 308.7H754V311.4H751.8Z" fill="#fff"/>
<path d="M720.2 393.1H726V398.6H720.2ZM754.1 393.1H759.6V398.6H754.1ZM728 393.1H730.5V398.6H728ZM750.6 393.1H752.6V398.6H750.6ZM726.4 405.4H730.5V414.6H726.4ZM750 405.4H754.1V414.6H750ZM728 414.6H733.6V420.7H728ZM747.9 414.6H751V420.7H747.9ZM733 425.9H735.6V433H733ZM745.3 425.9H746.9V433H745.3ZM730.5 438.2H734.6V444.3H730.5ZM746.5 438.2H750V444.3H746.5ZM726 450.5H734.6V456.6H726ZM746.5 450.5H754.7V456.6H746.5ZM731.5 456.6H735V460.7H731.5ZM746.5 456.6H748.9V460.7H746.5ZM726 465.4H736.6V472H726ZM744.4 465.4H754.7V472H744.4ZM728.4 472H735.6V480.2H728.4ZM745.3 472H752V480.2H745.3ZM730.5 480.2H735V486.3H730.5ZM745.9 480.2H750V486.3H745.9ZM734.2 504.8H736.2V521.2H734.2ZM744.4 510.9H746.9V517.1H744.4ZM733 521.2H735V531.4H733ZM734.2 540.7H736.2V545.8H734.2ZM745.3 540.7H746.9V545.8H745.3ZM726.4 548.9H735.6V560.1H726.4ZM728.4 547.4H734.6V561.8H728.4ZM745.9 548.9H754.1V560.1H745.9ZM746.5 547.4H752.6V561.8H746.5ZM725.4 564.6H734.6V570.4H725.4ZM746.9 564.6H757.1V570.4H746.9ZM728.4 570.4H734.6V574.5H728.4ZM746.5 570.4H751V574.5H746.5ZM726.4 575.5H734.6V581.7H726.4ZM746.5 575.5H753.5V581.7H746.5ZM733 591.9H735V599.9H733ZM745.9 591.9H747.9V599.9H745.9Z" fill="#b8232a"/>
<polygon points="726,498.6 732.5,492.5 737.7,491.5 737.7,498.6 732.5,501.7" fill="#b8232a"/>
<polygon points="754.1,498.6 747.9,492.5 743.8,491.5 743.8,498.6 747.9,501.7" fill="#b8232a"/>
<polygon points="730.5,390 729.5,410.5 733.6,422.8 735.6,431 734.6,451.5 735.6,472 734.6,488.4 735.6,492.5 734.6,504.8 733.6,523.2 734.6,533.5 735.6,545.8 734.6,564.2 734.6,599.9 746.9,599.9 746.5,564.2 746.5,545.8 746.5,533.5 746.9,523.2 745.9,504.8 744.8,492.5 745.9,488.4 745.9,472 746.5,451.5 745.3,431 746.9,422.8 751,410.5 751,390" fill="#7d8088"/>
<polygon points="734.6,580 746.5,580 746.9,604.6 746.5,621 749.4,629.2 749.4,639.4 755.1,643.5 762.3,647.6 763.7,653.8 759.2,656.3 751,655.8 747.9,661 744.8,662 743.8,674.3 744.4,686.6 743.8,698.9 745.9,703 745.9,713.2 742.8,721.4 741.8,726.6 738.3,726.6 737.7,721.4 733.6,716.3 734.6,711.2 735.6,703 735.6,690.7 737.1,682.5 736.2,674.3 735.6,662 731.5,659.9 728.4,654.8 722.3,656.3 716.6,655.4 715.7,650.7 722.3,646 729.5,643.5 731.5,639.4 731.5,629.2 734.2,621 733.6,604.6" fill="#7d8088"/>
<polygon points="738.7,730.7 742.8,730.7 743.2,737.8 742.4,750.1 743.2,760.4 742.4,772.7 742.8,779.9 737.9,779.9 738.3,772.7 737.7,760.4 738.3,750.1 737.7,737.8" fill="#7d8088"/>
<path d="M727.4 580H734.6V581.6H727.4ZM746.5 580H753V581.6H746.5ZM733 590.2H734.6V598.4H733ZM746.5 598.4H748.5V603.6H746.5ZM733 604.6H734.6V610.7H733ZM746.5 606.6H748.5V612.8H746.5ZM732.5 614.8H734.6V621H732.5ZM746.5 616.9H748.5V623H746.5ZM728.4 630.2H732.5V635.3H728.4ZM747.9 630.2H752V635.3H747.9ZM726.4 641.5H730.5V645.6H726.4ZM750 641.5H755.1V645.6H750ZM715.1 650.7H717.8V654.8H715.1ZM762.3 650.7H764.9V654.8H762.3ZM723.3 654.8H729.5V657.5H723.3ZM751 654.2H757.1V657.5H751ZM733.6 661.6H736.2V664.5H733.6ZM743.8 661.6H746.5V664.5H743.8ZM734.2 677.4H736.2V686.6H734.2ZM743.8 677.4H745.9V686.6H743.8ZM734.2 700.9H736.2V707.1H734.2ZM744.4 700.9H746.9V707.1H744.4ZM733 714.3H735V718.4H733ZM744.8 713.2H746.9V717.3H744.8ZM738.3 730H743.2V735.4H738.3ZM736.2 736.8H738.3V741.9H736.2ZM742.4 736.8H743.8V741.9H742.4Z" fill="#b8232a"/>
<path d="M738.3 770H742.4V779.2H738.3ZM738.7 788.4H742V802.8H738.7ZM738.3 812H742V820.2H738.3ZM738.3 884.8H742V899.1H738.3ZM738.3 915.9H742V922.1H738.3Z" fill="#7d8088"/>
<path d="M736.2 778.6H743.8V782.3H736.2ZM738.7 782.3H741.2V786.4H738.7ZM736.2 788H743.8V792.1H736.2ZM738.7 792.1H742V795.6H738.7ZM737.7 795.6H743.8V800.7H737.7ZM736.2 802.8H743.8V808.5H736.2ZM738.3 820.2H742V827H738.3ZM725.4 829.4H730.1V834.6H725.4ZM750 829.4H755.1V834.6H750ZM738.3 846.9H742V851.6H738.3ZM736.2 857.7H743.8V864.7H736.2ZM737.9 864.7H742.4V867.4H737.9ZM738.3 904.9H742V909H738.3ZM737.7 930.3H742.4V936H737.7Z" fill="#b8232a"/>
</g>
<g id="jet4">
<polygon points="1003.1,11.5 1003.1,16.5 1005.1,17 1007.1,21.6 1014.6,21.6 1014.6,19.1 1020.1,19.6 1023.1,21.6 1031.1,22.1 1031.1,26.6 1023.1,28.1 1023.1,32.1 1011.6,32.6 1006.1,35.6 1001.1,38.1 997,40.6 993,43.1 991.2,46.6 991.2,56.7 998,57.2 1003.6,61.2 1009.1,64.2 1015.1,68.2 1020.6,72.7 1026.1,76.2 1029.1,79.2 1031.1,82.1 1036,88.1 1038.1,96.3 1040.1,104.5 1041.2,111.7 1045.3,120.9 1048.3,128.1 1047.9,135.3 1041.2,137.3 1039.1,143.5 1035,152.7 1035.6,159.9 1041.2,164 1041.8,172.2 1045.3,178.3 1048.3,184.5 1047.3,192.7 1051.4,198.8 1051.4,202.9 1047.3,209.9 1080.1,209.9 1076,202.9 1076,198.8 1080.1,192.7 1079.1,184.5 1082.2,178.3 1086.3,172.2 1086.3,164 1093.4,158.9 1093.4,152.7 1087.3,143.5 1085.2,137.3 1080.1,135.3 1080.1,128.1 1084.2,120.9 1088.3,111.7 1090.4,104.5 1089.3,96.3 1092.4,90.2 1097.4,82.1 1099.4,79.2 1101.9,76.2 1107.4,72.7 1112.9,68.2 1118.4,64.2 1124.4,61.2 1130,57.2 1136,56.7 1136,46.6 1134,46.1 1134,42.6 1130.5,41.1 1124.4,38.1 1118.4,35.6 1112.4,32.6 1106.4,32.1 1105.9,28.1 1099.4,27.6 1095.9,24.6 1095.9,22.1 1101.4,21.6 1108.4,19.1 1113.9,19.1 1113.9,21.6 1119.9,21.6 1119.9,19.1 1123.4,19.1 1123.9,17 1125.9,16.5 1125.9,11.5 1121.9,11 1121.4,8.2 1112.4,8 1106.4,9 1096.4,11.5 1090.3,12.5 1084.3,16 1074.3,17 1073.8,19.1 1055.2,19.1 1054.2,17 1042.7,16 1037.2,12.5 1031.1,11.5" fill="#7d8088"/>
<path d="M1004.6 47.6H1007.3V49.6H1004.6Z" fill="#fff"/>
<path d="M1042.9 59.7H1053V64.8H1042.9ZM1048.8 62.4H1055V65.2H1048.8ZM1050.7 64.8H1062.8V69.8H1050.7ZM1055 69.8H1061.2V87.8H1055ZM1057 76.1H1062.8V87.8H1057ZM1042.9 67.1H1048.8V72.6H1042.9ZM1057.3 89.4H1063.2V95.6H1057.3ZM1051.1 97.2H1057.3V105.8H1051.1ZM1057.3 95.6H1063.6V101.9H1057.3ZM1053.4 105H1063.6V109.7H1053.4ZM1049.1 128H1062.8V135H1049.1ZM1040.9 112H1042.9V114.8H1040.9ZM1044.5 115.2H1046.8V122.2H1044.5ZM1074.5 59.7H1084.6V64.8H1074.5ZM1072.5 62.4H1078.8V65.2H1072.5ZM1064.7 64.8H1076.8V69.8H1064.7ZM1066.2 69.8H1072.5V87.8H1066.2ZM1064.7 76.1H1070.5V87.8H1064.7ZM1078.8 67.1H1084.6V72.6H1078.8ZM1064.3 89.4H1070.2V95.6H1064.3ZM1070.2 97.2H1076.4V105.8H1070.2ZM1063.9 95.6H1070.2V101.9H1063.9ZM1063.9 105H1074.1V109.7H1063.9ZM1064.7 128H1078.4V135H1064.7ZM1084.6 112H1086.6V114.8H1084.6ZM1080.7 115.2H1083V122.2H1080.7Z" fill="#b8232a"/>
<polygon points="1042.9,76.5 1050.7,76.5 1052.7,78.4 1054.2,82.3 1054.6,87.8 1049.1,87.8 1048.8,83.9 1046.8,82 1042.9,80" fill="#b8232a"/>
<polygon points="1084.6,76.5 1076.8,76.5 1074.8,78.4 1073.3,82.3 1072.9,87.8 1078.4,87.8 1078.8,83.9 1080.7,82 1084.6,80" fill="#b8232a"/>
<polygon points="1051.1,115.2 1053.4,110.5 1058.9,110.5 1058.9,125.3 1053.4,125.3 1051.1,121.4" fill="#b8232a"/>
<polygon points="1076.4,115.2 1074.1,110.5 1068.6,110.5 1068.6,125.3 1074.1,125.3 1076.4,121.4" fill="#b8232a"/>
<path d="M1059.7 102.3H1067.7V104.8H1059.7ZM1053 128H1057V130.4H1053ZM1070.6 128H1074.5V130.4H1070.6ZM1063.2 64.4H1064.2V87.8H1063.2Z" fill="#7d8088"/>
<polygon points="1049.4,128.1 1047.9,135.3 1041.2,137.3 1039.1,143.5 1035,152.7 1035.6,159.9 1041.2,164 1041.8,172.2 1045.3,178.3 1048.3,184.5 1047.3,192.7 1051.4,198.8 1051.4,202.9 1047.3,209.9 1080.1,209.9 1076,202.9 1076,198.8 1080.1,192.7 1079.1,184.5 1082.2,178.3 1086.3,172.2 1086.3,164 1093.4,158.9 1093.4,152.7 1087.3,143.5 1085.2,137.3 1080.1,135.3 1079.1,128.1" fill="#b8232a"/>
<polygon points="1062.7,128.1 1065.8,128.1 1065.8,139.4 1074,137.3 1075,139.4 1066.8,143.5 1066.4,155.8 1070.5,158.9 1070.5,172.2 1083.2,171.2 1083.2,174.2 1065.8,175.3 1065.2,180.4 1066.4,188.6 1069.9,189.6 1069.9,194.7 1066.4,194.7 1065.8,209.9 1062.7,209.9 1062.3,194.7 1057.6,194.7 1057.6,189.6 1061.7,188.6 1062.7,180.4 1062.3,175.3 1044.7,174.2 1044.7,171.2 1057.6,172.2 1057.6,158.9 1061.7,155.8 1061.3,143.5 1053.5,139.4 1054.5,137.3 1062.7,139.4" fill="#7d8088"/>
<path d="M1047.3 149.6H1051.4V155.8H1047.3ZM1076 149.6H1080.1V155.8H1076Z" fill="#7d8088"/>
<polygon points="1047.3,190 1052.4,198.2 1047.3,206.4 1047.3,216.6 1049.4,231 1041.8,234.1 1041.8,239.2 1049.4,241.2 1050.4,247.4 1045.3,251.5 1041.2,259.7 1041.8,264.8 1047.3,272 1050.4,278.1 1049.4,288.4 1049.4,304.8 1047.3,310.9 1047.3,329.4 1052.4,333.5 1051.4,349.9 1076,349.9 1076,333.5 1080.7,329.4 1081.6,310.9 1078.1,304.8 1077.5,288.4 1077,278.1 1082.2,272 1087.3,264.8 1087.3,259.7 1082.2,251.5 1078.1,247.4 1079.1,241.2 1087.3,239.2 1087.3,234.1 1080.1,231 1081.1,216.6 1080.1,206.4 1075,198.2 1080.1,190" fill="#b8232a"/>
<polygon points="1058.6,190 1070.9,190 1070.9,194.1 1065.8,196.1 1066.4,206.4 1068.8,210.5 1068.8,216.6 1066.4,220.7 1065.8,230 1063.7,230 1063.1,220.7 1059.6,216.6 1059,210.5 1062.3,206.4 1062.7,196.1 1058.6,194.1" fill="#7d8088"/>
<polygon points="1062.7,239.2 1065.8,239.2 1071.9,244.3 1071.9,247.4 1056.5,247.4 1056.5,244.3" fill="#7d8088"/>
<polygon points="1063.7,249.4 1062.7,253.5 1056.5,257.6 1056.5,265.8 1061.7,271 1058.6,278.1 1054.5,286.3 1053.5,294.5 1059,300.7 1059,310.9 1055.5,317.1 1055.5,323.2 1060.2,329.4 1060.6,345.8 1051.4,349.9 1053.5,362.2 1051.4,368.3 1053.5,374.5 1052.4,382.7 1051.4,388.8 1054.5,395 1053.5,399.9 1075,399.9 1074,395 1077.5,388.8 1076,382.7 1076,374.5 1078.1,368.3 1075,362.2 1076,349.9 1068.8,345.8 1068.8,329.4 1071.9,323.2 1071.9,317.1 1070.5,310.9 1069.9,300.7 1072.5,294.5 1072.5,286.3 1069.9,278.1 1067.8,271 1071.9,265.8 1070.9,257.6 1065.8,253.5 1064.7,249.4" fill="#7d8088"/>
<path d="M1049.4 224.8H1052.4V232H1049.4ZM1075 224.8H1080.1V232H1075ZM1041.8 233H1046.7V235.1H1041.8ZM1082.8 233H1087.3V235.1H1082.8ZM1050.4 248.2H1078.1V249.4H1050.4ZM1051.4 261.7H1056.5V262.8H1051.4ZM1071.9 261.7H1077V262.8H1071.9Z" fill="#7d8088"/>
<path d="M1051.4 350.9H1056.5V356H1051.4ZM1052 362.6H1057V367.9H1052ZM1069.9 350.9H1076V356.4H1069.9ZM1070.9 356.4H1076V363.2H1070.9ZM1052.4 375.5H1054.9V379.6H1052.4ZM1071.9 374.5H1076V379.6H1071.9ZM1051.4 381.7H1058.6V390.9H1051.4ZM1069.9 381.7H1077.5V390.9H1069.9ZM1054.5 397H1057V399.9H1054.5ZM1070.9 397H1074V399.9H1070.9Z" fill="#b8232a"/>
<polygon points="1053.5,390 1053.5,422.8 1051.4,430 1051.4,436.1 1053.5,438.2 1053.5,453.5 1055.5,457.6 1055.5,486.3 1051.4,494.5 1052.4,500.7 1056.5,504.8 1055.5,513 1057,521.2 1057,549.9 1057,566.3 1055.5,570.4 1057,576.5 1057,584.7 1054.5,590.9 1053.5,599.9 1074,599.9 1071.9,590.9 1071.9,584.7 1070.9,576.5 1071.9,570.4 1070.5,566.3 1071.9,549.9 1070.9,521.2 1071.9,513 1071.9,504.8 1076,498.6 1076,490.4 1071.9,486.3 1072.9,457.6 1076,449.4 1074,438.2 1076,436.1 1076,430 1074,422.8 1075,390" fill="#7d8088"/>
<path d="M1053.5 390H1058.6V392.5H1053.5ZM1069.9 390H1075V392.5H1069.9ZM1053.5 397.8H1058.6V401.9H1053.5ZM1068.8 397.8H1074V401.9H1068.8ZM1053.5 408.4H1059V420.7H1053.5ZM1068.4 408.4H1074V420.7H1068.4ZM1051.4 430H1058.6V436.1H1051.4ZM1068.4 430H1076V436.1H1068.4ZM1053.5 439.2H1058.6V443.7H1053.5ZM1068.4 439.2H1073.4V443.7H1068.4ZM1055.5 443.7H1059.6V448.4H1055.5ZM1067.8 443.7H1071.9V448.4H1067.8ZM1053.5 448.4H1060.6V454H1053.5ZM1067.2 448.4H1076V454H1067.2ZM1055.5 458.7H1059.6V464.8H1055.5ZM1066.8 458.7H1071.9V464.8H1066.8ZM1055.5 467.5H1062.3V482.2H1055.5ZM1066.4 467.5H1071.9V482.2H1066.4ZM1052.4 489.4H1059.6V496.6H1052.4ZM1051.4 494.5H1056.5V499.7H1051.4ZM1055.5 499.7H1062.7V504.8H1055.5ZM1068.4 489.4H1076V498.6H1068.4ZM1065.8 498.6H1072.9V504.8H1065.8ZM1055.5 510.9H1060.6V515.4H1055.5ZM1066.4 510.9H1071.9V515.4H1066.4ZM1057.6 522.2H1062.7V526.9H1057.6ZM1065.8 522.2H1071.9V526.9H1065.8ZM1057 536.6H1062.7V541.7H1057ZM1065.8 536.6H1071.9V541.7H1065.8ZM1057.6 542.7H1062.7V547.8H1057.6ZM1065.8 542.7H1070.9V547.8H1065.8ZM1055.5 566.7H1058.2V571.4H1055.5ZM1069.9 566.7H1071.9V571.4H1069.9ZM1057.6 572.4H1062.7V577.6H1057.6ZM1064.7 572.4H1070.9V577.6H1064.7ZM1055.5 586.8H1060.6V591.9H1055.5ZM1067.8 586.8H1071.9V591.9H1067.8ZM1054.1 592.9H1059.6V599.9H1054.1ZM1067.8 592.9H1074V599.9H1067.8Z" fill="#b8232a"/>
<polygon points="1057,580 1071.9,580 1071.9,586.1 1074,596.4 1074,606.6 1070.9,616.9 1072.9,623 1075,629.2 1076,634.3 1083.2,639.4 1091.4,641.5 1091.8,646.6 1083.2,645.6 1074,640.5 1070.5,645.6 1070.5,655.8 1071.9,657.9 1071.9,663 1069.9,668.1 1069.3,672.2 1066.8,676.3 1067.2,688.6 1069.3,690.7 1067.2,694.8 1067.8,700.9 1069.9,702 1069.9,705 1066.4,706.1 1066.8,721.4 1071.9,724.5 1071.9,728.6 1069.3,730.7 1071.9,739.9 1071.9,746 1066.4,748.1 1066.4,763.5 1067.8,764.5 1067.8,767.6 1066.4,768.6 1066.4,789.9 1061.1,789.9 1061.1,768.6 1059,767.6 1059,764.5 1061.7,763.5 1061.1,748.1 1057,746 1057,739.9 1059.6,730.7 1057,728.6 1057,724.5 1062.3,721.4 1061.7,706.1 1059,705 1059,702 1060.2,700.9 1059,688.6 1060.2,676.3 1057.6,668.1 1057,663 1057,657.9 1057.6,655.8 1057,645.6 1054.5,640.5 1045.3,645.6 1037.1,646.6 1037.1,641.5 1045.3,639.4 1052.4,634.3 1052.9,629.2 1054.5,623 1056.5,616.9 1053.5,606.6 1053.5,596.4 1055.5,586.1" fill="#7d8088"/>
<path d="M1054.5 587.2H1061.7V592.3H1054.5ZM1067.8 587.2H1071.9V592.3H1067.8ZM1052.9 594.3H1062.3V607.7H1052.9ZM1066.4 594.3H1074V607.7H1066.4ZM1055.5 609.7H1062.7V617.9H1055.5ZM1065.8 609.7H1071.9V616.9H1065.8ZM1052.9 623H1055.5V627.6H1052.9ZM1071.9 623H1074V627.6H1071.9ZM1052.9 629.2H1059.6V635.3H1052.9ZM1069.3 629.2H1076V635.3H1069.3ZM1057 635.3H1062.7V644.6H1057ZM1065.2 635.3H1070.5V644.6H1065.2ZM1061.7 641.5H1066.4V644.6H1061.7ZM1045.3 635.8H1048.8V639.4H1045.3ZM1077.5 635.8H1081.6V639.4H1077.5ZM1037.1 640.7H1041.2V642.7H1037.1ZM1087.7 640.7H1091.8V642.7H1087.7ZM1057 649.3H1069.9V652.8H1057ZM1059 700.9H1069.9V705.4H1059Z" fill="#b8232a"/>
<path d="M1061.1 760H1066.4V798.9H1061.1ZM1059 763.1H1067.8V767.2H1059ZM1061.1 878.9H1066.4V897.3H1061.1ZM1066.4 884H1068V892.2H1066.4ZM1061.1 908H1067.2V911.7H1061.1Z" fill="#7d8088"/>
</g>
<g id="jet5">
<polygon points="1357,10.4 1357,15.6 1361.1,16.1 1361.1,21.4 1364.3,22.4 1364.8,24.5 1370,24.5 1370,26.1 1350.1,24.5 1348.6,26.6 1341.2,27.1 1340.7,29.2 1334.4,29.4 1334.2,34.5 1338.6,37.6 1338.6,41.8 1333.9,42.3 1330.2,45.5 1330.2,50.2 1341.8,50.7 1348,53.3 1354.3,57 1360.6,60.7 1366.4,63.8 1370,68 1371.1,72.2 1373.7,77.4 1377.4,84 1377.3,84.1 1374.2,89.2 1438.8,89.2 1436.8,84.1 1438.1,84 1441.3,77.4 1443.9,71.7 1447,67.5 1452.8,63.3 1459.1,59.6 1465.4,56.5 1471.7,53.3 1478,50.7 1484,50.2 1484,45.5 1480.6,45 1480,42.3 1475.3,41.8 1475.9,35 1479.8,34.5 1479.8,29.4 1472.7,29.2 1472.7,27.1 1465.4,26.6 1463.8,24.5 1443.9,26.1 1443.9,24.5 1448.6,24.5 1449.1,22.4 1452.3,21.4 1452.8,16.1 1456.8,15.6 1456.5,9.9 1450.2,9.3 1449.7,7.2 1444.4,7.2 1438.1,9.3 1436,12.5 1429.8,12.5 1427.7,10.4 1415.1,10.4 1410.4,12.5 1409.9,15.6 1404.1,15.6 1403,12.5 1399.4,10.4 1386.8,10.4 1384.7,12.5 1378.4,12.5 1375.3,10.4" fill="#7d8088"/>
<polygon points="1407,59.5 1404,55.4 1402.9,51.3 1383.4,52.3 1381.4,59.5 1382.4,63.6 1387.5,65.6 1386.5,70.8 1385.5,77.9 1390.6,82 1382.4,86.1 1374.2,89.2 1374.2,98.4 1379.3,100.5 1386.5,106.6 1388.6,114.8 1383.4,121 1384.5,127.1 1386.5,133.3 1383.4,137.4 1384.5,143.6 1383.4,151.8 1383.4,162 1388.6,166.1 1388.6,174.3 1375.2,176.4 1374.2,184.6 1380.4,189.7 1386.5,194.8 1386.5,203 1388.6,210 1425.5,210 1426.5,203 1426.5,194.8 1432.7,189.7 1438.8,184.6 1437.8,176.4 1425.5,174.3 1425.5,166.1 1430,162 1429.6,151.8 1428.6,143.6 1429.6,137.4 1426.5,133.3 1428.6,127.1 1429.6,121 1425.5,114.8 1426.5,106.6 1433.7,100.5 1438.8,98.4 1438.8,89.2 1430.6,86.1 1422.4,82 1427.5,77.9 1426.5,70.8 1424.5,65.6 1429.6,63.6 1430.6,59.5 1429.6,52.3 1411.1,51.3 1410.1,55.4 1407,59.5" fill="#b8232a"/>
<path d="M1406 59.5H1409.1V69.7H1406ZM1407.4 73.8H1409.5V102.5H1407.4ZM1404 102.5H1410.1V121H1404ZM1405 121H1409.1V174.3H1405ZM1398.8 82H1416.3V85.1H1398.8ZM1402.9 93.3H1410.1V97.4H1402.9ZM1400.9 110.7H1415.2V112.4H1400.9ZM1404 130.2H1410.1V135.4H1404ZM1401.3 142.5H1412.2V146.6H1401.3ZM1398.8 155.9H1415.2V160H1398.8ZM1404 168.2H1409.5V182.5H1404ZM1397.8 186.6H1417.3V188.7H1397.8ZM1404 188.7H1409.5V197.9H1404ZM1391.7 59.5H1398.8V63.6H1391.7ZM1415.2 59.5H1421.4V63.6H1415.2ZM1375.2 92.3H1384.5V97.4H1375.2ZM1380.4 89.2H1384.5V93.3H1380.4ZM1429.6 92.3H1437.8V97.4H1429.6ZM1428.6 89.2H1432.7V93.3H1428.6ZM1390.2 115.9H1395.8V121H1390.2ZM1418.3 115.9H1423.4V121H1418.3ZM1390.6 131.2H1394.7V135.4H1390.6ZM1419.3 132.3H1423.4V136.4H1419.3ZM1383.4 135.4H1386.5V140.5H1383.4ZM1426.5 135.4H1430V140.5H1426.5ZM1391.7 149.7H1395.8V153.4H1391.7ZM1418.3 149.7H1422.4V153.4H1418.3ZM1388.6 203H1391.7V207.1H1388.6ZM1421.4 203H1425.5V207.1H1421.4Z" fill="#7d8088"/>
<polygon points="1388.6,70.8 1391.7,69.7 1399.9,76.9 1396.8,79" fill="#7d8088"/>
<polygon points="1425.5,70.8 1422.4,69.7 1414.2,76.9 1417.3,79" fill="#7d8088"/>
<polygon points="1392.7,165.1 1407,167.1 1421.4,165.1 1421.4,167.1 1407,169.8 1392.7,167.1" fill="#7d8088"/>
<polygon points="1401.9,102.5 1412.2,102.5 1408.1,114.8 1406,114.8" fill="#7d8088"/>
<polygon points="1380.3,64.6 1389.7,64.6 1390.5,69.6 1386.1,70.6 1387.9,75.3 1393.1,84 1380.3,84" fill="#7d8088"/>
<polygon points="1433.5,64.6 1424.1,64.6 1423.4,69.6 1427.8,70.6 1426,75.3 1420.8,84 1433.5,84" fill="#7d8088"/>
<polygon points="1392,69.6 1397.3,69.6 1402,76.9 1400.4,78" fill="#7d8088"/>
<polygon points="1421.8,69.6 1416.6,69.6 1411.8,76.9 1413.4,78" fill="#7d8088"/>
<polygon points="1380.3,50.4 1383.7,50.4 1381,56.5 1380.3,56.5" fill="#7d8088"/>
<polygon points="1433.5,50.4 1430.2,50.4 1432.8,56.5 1433.5,56.5" fill="#7d8088"/>
<polygon points="1404.6,50.4 1405.7,50.4 1406.2,56.5 1403.6,53.3" fill="#7d8088"/>
<polygon points="1409.2,50.4 1408.2,50.4 1407.7,56.5 1410.3,53.3" fill="#7d8088"/>
<polygon points="1381.1,209.5 1380.1,210.5 1379.1,226.9 1382.1,235.1 1382.1,243.3 1389.3,247.4 1390.3,253.5 1396.5,255.6 1390.3,259.7 1390.3,265.8 1394.4,269.9 1393.4,280.2 1388.3,282.2 1388.7,286.3 1394.4,288.4 1393.4,304.8 1395.5,310.9 1389.3,315 1389.3,319.1 1394.4,321.2 1381.7,326.3 1382.1,331.4 1390.3,340.7 1394.4,345.8 1394.4,351.9 1390.3,353 1390.3,357.1 1394.4,358.1 1393.4,364.2 1396.5,368.3 1395.5,374.5 1392.4,377.6 1392.4,381.7 1396.5,381.7 1390.3,382.7 1391.4,392.9 1396.5,392.9 1396.5,399.9 1417,399.9 1418,392.9 1423.1,392.9 1423.1,382.7 1417,381.7 1421.1,381.7 1421.1,377.6 1419,374.5 1418,368.3 1421.1,364.2 1419,358.1 1423.6,357.1 1423.6,353 1419,351.9 1419,345.8 1424.2,340.7 1432.4,331.4 1433,326.3 1419,321.2 1423.6,319.1 1423.6,315 1418,310.9 1420.1,304.8 1420.1,288.4 1425.6,286.3 1425.6,282.2 1421.1,280.2 1420.1,269.9 1423.6,265.8 1423.6,259.7 1418,255.6 1424.2,253.5 1424.2,247.4 1432.4,243.3 1432.4,235.1 1434.4,226.9 1435,214.6 1430.3,210.5 1430.3,209.5" fill="#b8232a"/>
<polygon points="1406.7,210.5 1409.2,226.9 1411.9,237.1 1412.5,249.4 1401,249.4 1401.6,237.1 1404.7,226.9" fill="#7d8088"/>
<path d="M1396.5 247.8H1417V249H1396.5ZM1405.7 250.5H1408.8V257.6H1405.7ZM1388.7 203.3H1392.4V207.4H1388.7ZM1421.1 203.3H1425.6V207.4H1421.1ZM1429.7 210.5H1433V213H1429.7Z" fill="#7d8088"/>
<path d="M1389.3 216.2H1392.4V219.1H1389.3ZM1421.1 216.2H1424.2V219.1H1421.1Z" fill="#fff"/>
<polygon points="1401,258.7 1401.6,280.2 1397.5,280.6 1401.6,282.2 1401.6,306.8 1396.1,307.9 1396.1,309.3 1401.6,309.9 1401.6,317.1 1397.5,320.2 1401.6,323.2 1402.6,333.5 1402.6,345.8 1400.6,354 1399.6,360.1 1395.5,370.4 1395.5,375.5 1400.6,380.6 1401,399.9 1412.9,399.9 1413.3,380.6 1419,375.5 1419,370.4 1413.9,360.1 1412.5,354 1410.8,345.8 1412.5,333.5 1412.5,317.1 1411.9,309.9 1418,309.3 1418,307.9 1411.9,306.8 1412.5,282.2 1417,280.6 1412.9,280.2 1411.9,267.9 1412.5,258.7" fill="#7d8088"/>
<path d="M1379.1 381.7H1387.9V388.8H1379.1ZM1381.1 392.9H1387.9V397.4H1381.1ZM1426.2 381.7H1435V388.8H1426.2ZM1426.2 392.9H1433V397.4H1426.2ZM1392.4 375.5H1399V381H1392.4ZM1414.5 375.5H1420.7V381H1414.5Z" fill="#b8232a"/>
<polygon points="1395.5,390 1395.5,404.3 1388.7,406.4 1390.3,417.7 1396.5,421.8 1396.5,425.9 1394.4,431 1392.4,438.2 1395.5,443.3 1395.5,457.6 1397.5,460.7 1395.5,462.8 1396.5,474 1399.6,480.2 1388.3,481.2 1381.7,484.7 1383.2,492.5 1388.3,500.7 1396.5,503.8 1399.6,504.8 1399.6,510.9 1399,516.1 1390.3,517.1 1396.5,523.2 1399.6,526.3 1399.6,543.7 1401,545.8 1401,556 1397.5,557.1 1397.5,562.2 1394.9,564.2 1397.5,568.3 1398.5,580.6 1397.5,592.9 1395.5,599.9 1419,599.9 1416,592.9 1416,580.6 1416,568.3 1418.6,564.2 1414.9,562.2 1414.9,557.1 1411.9,556 1411.9,545.8 1414.5,543.7 1413.9,526.3 1417,523.2 1423.6,517.1 1414.9,516.1 1413.9,510.9 1413.9,504.8 1417,503.8 1425.2,500.7 1429.3,492.5 1429.7,484.7 1425.2,481.2 1413.9,480.2 1417,474 1418,462.8 1417,460.7 1418,457.6 1418.6,443.3 1421.1,438.2 1418,431 1417,425.9 1417,421.8 1423.6,417.7 1424.2,406.4 1418.6,404.3 1418.6,390" fill="#b8232a"/>
<polygon points="1401,390 1401.6,404.3 1399,410.5 1401.6,416.6 1396.5,422.4 1396.5,425.9 1404.7,426.5 1404.7,435.1 1400.6,441.2 1404.7,447.4 1401,457.6 1396.5,461.7 1396.5,466.3 1404.7,466.9 1405.7,480.2 1400.2,482.7 1400.2,485.9 1405.7,486.3 1401.6,492.5 1401.6,497.6 1404.7,500.7 1399.6,505.8 1399.6,510.9 1405.7,511.3 1404.7,521.2 1401,525.3 1405.7,531.4 1400.6,535.5 1400.6,538 1405.7,538.6 1405.7,543.7 1401,545.8 1401,556 1405.7,557.1 1404.7,564.2 1405.7,574.5 1404.7,581.7 1405.7,599.9 1408.4,599.9 1409.2,581.7 1408.4,574.5 1409.2,564.2 1408.4,557.1 1411.9,556 1411.9,545.8 1408.4,543.7 1408.4,538.6 1412.9,538 1412.9,535.5 1408.4,531.4 1412.5,525.3 1408.8,521.2 1408.4,511.3 1413.9,510.9 1413.9,505.8 1408.8,500.7 1411.9,497.6 1411.9,492.5 1408.4,486.3 1412.5,485.9 1412.5,482.7 1408.4,480.2 1409.2,466.9 1417,466.3 1417,461.7 1412.5,457.6 1409.2,447.4 1412.9,441.2 1409.2,435.1 1408.8,426.5 1417,425.9 1417,422.4 1411.9,416.6 1414.9,410.5 1411.9,404.3 1412.5,390" fill="#7d8088"/>
<path d="M1381.1 392.5H1387.9V397.8H1381.1ZM1426.2 392.5H1433V397.8H1426.2ZM1383.2 460.7H1392V466.9H1383.2ZM1421.1 460.7H1430.3V466.9H1421.1Z" fill="#b8232a"/>
<polygon points="1397.5,580 1416,580 1417,592.3 1419,598.4 1423.1,604.6 1438.5,606.2 1438.5,610.7 1429.3,613.8 1421.1,612.8 1412.5,613.8 1412.5,626.1 1410.4,633.3 1409.2,639.4 1411.9,643.5 1411.9,653.8 1414.5,658.9 1414.5,662 1411.3,666.1 1411.9,672.2 1410.4,678.4 1414.5,684.5 1414.5,690.7 1409.2,691.7 1409.8,697.9 1416.6,703 1416.6,708.1 1411.9,711.2 1409.8,715.3 1409.8,744 1404.3,744 1404.3,734.8 1401,733.7 1401,731.7 1404.3,730.7 1404.3,715.3 1402.2,711.2 1397.5,708.1 1397.5,703 1404.3,697.9 1404.7,691.7 1399,690.7 1399,684.5 1403.1,678.4 1401.6,672.2 1402.2,666.1 1399,662 1399,658.9 1401.6,653.8 1401.6,643.5 1404.3,639.4 1403.7,633.3 1401,626.1 1401,613.8 1392.4,612.8 1384.2,613.8 1374.4,610.7 1374.4,605.6 1390.3,604.6 1395.5,598.4 1396.5,592.3" fill="#7d8088"/>
<path d="M1404.3 748.1H1409.8V782.5H1404.3Z" fill="#7d8088"/>
<path d="M1397.5 582H1404.7V595.4H1397.5ZM1409.2 582H1416.6V594.3H1409.2ZM1395.5 597.4H1403.7V603.6H1395.5ZM1410.4 597.4H1418.6V603.6H1410.4ZM1374.4 605H1391.4V611.8H1374.4ZM1379.1 611.8H1388.7V614.4H1379.1ZM1422.1 605H1438.5V611.2H1422.1ZM1423.1 611.2H1433V614.4H1423.1ZM1397.5 607.7H1404.3V612.8H1397.5ZM1409.8 607.7H1416.6V612.8H1409.8ZM1401 626.1H1411.9V630.2H1401ZM1403.7 630.2H1409.2V632.9H1403.7ZM1399 654.8H1406.3V662H1399ZM1407.8 654.8H1414.5V662H1407.8ZM1399 691.7H1405.7V695.8H1399ZM1408.4 691.7H1414.9V695.8H1408.4ZM1404.3 734.8H1409.8V739.5H1404.3Z" fill="#b8232a"/>
<path d="M1404.3 811.6H1409.8V818.6H1404.3ZM1404.3 822.2H1409.8V835.6H1404.3ZM1404.3 855H1409.8V865.3H1404.3Z" fill="#7d8088"/>
<path d="M1404.3 806.3H1409.8V811H1404.3ZM1404.3 865.3H1409.8V866.9H1404.3Z" fill="#b8232a"/>
</g>
</g>
<g id="frame">
<path d="M35 13.3H123 M31 873.5H136.7 M58 33.3V853.5" stroke="#1a1718" stroke-width="3.5" fill="none"/>
<path d="M58 13.8L47.7 50.3L68.3 50.3Z M58 873L47.7 836.5L68.3 836.5Z" fill="#1a1718"/>
<text transform="translate(46.8 563) rotate(-90)" font-size="56" fill="#1a1718" >60.3 cm</text>
<path d="M163.9 129.6 Q173.2 129.6 176.7 131.2 Q178.2 132.2 178.2 136.1 V597.5 Q178.2 601.4 176.7 602.4 Q173.2 604 163.9 604" stroke="#3c6bb5" stroke-width="3.5" fill="none"/><path d="M178.2 360.1L181.7 361.4L192.6 362.2L192.6 364.8L181.7 365.6L178.2 366.9Z" fill="#3c6bb5"/><path d="M176 361.7L177.6 363.5L176 365.3Z" fill="#fff"/>
<path d="M144.9 644.7 Q154.2 644.7 157.7 646.3 Q159.2 647.3 159.2 651.2 V867.7 Q159.2 871.6 157.7 872.6 Q154.2 874.2 144.9 874.2" stroke="#4ea3de" stroke-width="3.5" fill="none"/><path d="M159.2 753.7L162.7 755L173.6 755.8L173.6 758.4L162.7 759.2L159.2 760.5Z" fill="#4ea3de"/><path d="M157 755.3L158.6 757.1L157 758.9Z" fill="#fff"/>
<text transform="translate(237 444.6) rotate(-90)" font-size="56.5" fill="#3c6bb5" >Middle</text>
<text transform="translate(278.6 455.8) rotate(-90)" font-size="55.6" fill="#3c6bb5" >segment</text>
<text transform="translate(217.3 821) rotate(-90)" font-size="55.6" fill="#4ea3de" >Front</text>
<text transform="translate(259.6 852.6) rotate(-90)" font-size="55.3" fill="#4ea3de" >segment</text>
<text x="10" y="1003" font-size="56" font-style="italic" fill="#1a1718">χ</text><text x="47.6" y="1003" font-size="56" fill="#1a1718">=</text><text x="79" y="1003" font-size="56" fill="#1a1718">6 mm</text>
<path d="M324 10.1H411 M327.5 905H432.7 M361.3 30.1V885" stroke="#1a1718" stroke-width="3.5" fill="none"/>
<path d="M361.3 10.6L351 47.1L371.6 47.1Z M361.3 904.5L351 868L371.6 868Z" fill="#1a1718"/>
<text transform="translate(343.7 546.4) rotate(-90)" font-size="56" fill="#1a1718" >63.6 cm</text>
<path d="M459 124 Q468.3 124 471.8 125.6 Q473.3 126.6 473.3 130.5 V593.5 Q473.3 597.4 471.8 598.4 Q468.3 600 459 600" stroke="#3c6bb5" stroke-width="3.5" fill="none"/><path d="M473.3 354.9L476.8 356.2L487.7 357L487.7 359.6L476.8 360.4L473.3 361.7Z" fill="#3c6bb5"/><path d="M471.1 356.5L472.7 358.3L471.1 360.1Z" fill="#fff"/>
<path d="M441 636 Q450.3 636 453.8 637.6 Q455.3 638.6 455.3 642.5 V898.5 Q455.3 902.4 453.8 903.4 Q450.3 905 441 905" stroke="#4ea3de" stroke-width="3.5" fill="none"/><path d="M455.3 764.9L458.8 766.2L469.7 767L469.7 769.6L458.8 770.4L455.3 771.7Z" fill="#4ea3de"/><path d="M453.1 766.5L454.7 768.3L453.1 770.1Z" fill="#fff"/>
<text transform="translate(534.3 438.5) rotate(-90)" font-size="56.5" fill="#3c6bb5" >Middle</text>
<text transform="translate(575.9 449.7) rotate(-90)" font-size="55.6" fill="#3c6bb5" >segment</text>
<text transform="translate(508.4 833.1) rotate(-90)" font-size="55.6" fill="#4ea3de" >Front</text>
<text transform="translate(550.7 864.7) rotate(-90)" font-size="55.3" fill="#4ea3de" >segment</text>
<text x="309.3" y="1003" font-size="56" font-style="italic" fill="#1a1718">χ</text><text x="346.9" y="1003" font-size="56" fill="#1a1718">=</text><text x="378.3" y="1003" font-size="56" fill="#1a1718">9 mm</text>
<path d="M634 7.5H721 M632.5 933.4H738.7 M662.6 27.5V913.4" stroke="#1a1718" stroke-width="3.5" fill="none"/>
<path d="M662.6 8L652.3 44.5L672.9 44.5Z M662.6 932.9L652.3 896.4L672.9 896.4Z" fill="#1a1718"/>
<text transform="translate(638 561.3) rotate(-90)" font-size="56" fill="#1a1718" >67.2 cm</text>
<path d="M767.6 132 Q776.9 132 780.4 133.6 Q781.9 134.6 781.9 138.5 V633 Q781.9 636.9 780.4 637.9 Q776.9 639.5 767.6 639.5" stroke="#3c6bb5" stroke-width="3.5" fill="none"/><path d="M781.9 379L785.4 380.3L796.3 381.1L796.3 383.7L785.4 384.5L781.9 385.8Z" fill="#3c6bb5"/><path d="M779.7 380.6L781.3 382.4L779.7 384.2Z" fill="#fff"/>
<path d="M752.2 662 Q761.5 662 765 663.6 Q766.5 664.6 766.5 668.5 V925 Q766.5 928.9 765 929.9 Q761.5 931.5 752.2 931.5" stroke="#4ea3de" stroke-width="3.5" fill="none"/><path d="M766.5 791.4L770 792.7L780.9 793.5L780.9 796.1L770 796.9L766.5 798.2Z" fill="#4ea3de"/><path d="M764.3 793L765.9 794.8L764.3 796.6Z" fill="#fff"/>
<text transform="translate(845 468.3) rotate(-90)" font-size="56.5" fill="#3c6bb5" >Middle</text>
<text transform="translate(886.6 479.5) rotate(-90)" font-size="55.6" fill="#3c6bb5" >segment</text>
<text transform="translate(828 859.4) rotate(-90)" font-size="55.6" fill="#4ea3de" >Front</text>
<text transform="translate(870.4 891) rotate(-90)" font-size="55.3" fill="#4ea3de" >segment</text>
<text x="605.1" y="1003" font-size="56" font-style="italic" fill="#1a1718">χ</text><text x="642.7" y="1003" font-size="56" fill="#1a1718">=</text><text x="674.1" y="1003" font-size="56" fill="#1a1718">12 mm</text>
<path d="M950 9.5H1050.2 M951 914H1067.2 M973.6 29.5V894" stroke="#1a1718" stroke-width="3.5" fill="none"/>
<path d="M973.6 10L963.3 46.5L983.9 46.5Z M973.6 913.5L963.3 877L983.9 877Z" fill="#1a1718"/>
<text transform="translate(951.8 552.4) rotate(-90)" font-size="56" fill="#1a1718" >64.1 cm</text>
<path d="M1089 126 Q1098.3 126 1101.8 127.6 Q1103.3 128.6 1103.3 132.5 V621.5 Q1103.3 625.4 1101.8 626.4 Q1098.3 628 1089 628" stroke="#3c6bb5" stroke-width="3.5" fill="none"/><path d="M1103.3 369.9L1106.8 371.2L1117.7 372L1117.7 374.6L1106.8 375.4L1103.3 376.7Z" fill="#3c6bb5"/><path d="M1101.1 371.5L1102.7 373.3L1101.1 375.1Z" fill="#fff"/>
<path d="M1079.1 648 Q1088.4 648 1091.9 649.6 Q1093.4 650.6 1093.4 654.5 V906 Q1093.4 909.9 1091.9 910.9 Q1088.4 912.5 1079.1 912.5" stroke="#4ea3de" stroke-width="3.5" fill="none"/><path d="M1093.4 774.9L1096.9 776.2L1107.8 777L1107.8 779.6L1096.9 780.4L1093.4 781.7Z" fill="#4ea3de"/><path d="M1091.2 776.5L1092.8 778.3L1091.2 780.1Z" fill="#fff"/>
<text transform="translate(1166.6 454) rotate(-90)" font-size="56.5" fill="#3c6bb5" >Middle</text>
<text transform="translate(1208.2 465.2) rotate(-90)" font-size="55.6" fill="#3c6bb5" >segment</text>
<text transform="translate(1148 843.1) rotate(-90)" font-size="55.6" fill="#4ea3de" >Front</text>
<text transform="translate(1190.3 874.7) rotate(-90)" font-size="55.3" fill="#4ea3de" >segment</text>
<text x="934.2" y="1003" font-size="56" font-style="italic" fill="#1a1718">χ</text><text x="971.8" y="1003" font-size="56" fill="#1a1718">=</text><text x="1003.2" y="1003" font-size="56" fill="#1a1718">15 mm</text>
<path d="M1289 7.3H1390 M1286 864.7H1409.8 M1315.6 27.3V844.7" stroke="#1a1718" stroke-width="3.5" fill="none"/>
<path d="M1315.6 7.8L1305.3 44.3L1325.9 44.3Z M1315.6 864.2L1305.3 827.7L1325.9 827.7Z" fill="#1a1718"/>
<text transform="translate(1295.7 526.4) rotate(-90)" font-size="56" fill="#1a1718" >61.1 cm</text>
<path d="M1441.7 91 Q1451 91 1454.5 92.6 Q1456 93.6 1456 97.5 V590.5 Q1456 594.4 1454.5 595.4 Q1451 597 1441.7 597" stroke="#3c6bb5" stroke-width="3.5" fill="none"/><path d="M1456 336.5L1459.5 337.8L1470.4 338.6L1470.4 341.2L1459.5 342L1456 343.3Z" fill="#3c6bb5"/><path d="M1453.8 338.1L1455.4 339.9L1453.8 341.7Z" fill="#fff"/>
<path d="M1417.9 616 Q1427.2 616 1430.7 617.6 Q1432.2 618.6 1432.2 622.5 V857.5 Q1432.2 861.4 1430.7 862.4 Q1427.2 864 1417.9 864" stroke="#4ea3de" stroke-width="3.5" fill="none"/><path d="M1432.2 733.7L1435.7 735L1446.6 735.8L1446.6 738.4L1435.7 739.2L1432.2 740.5Z" fill="#4ea3de"/><path d="M1430 735.3L1431.6 737.1L1430 738.9Z" fill="#fff"/>
<text transform="translate(1517 419) rotate(-90)" font-size="56.5" fill="#3c6bb5" >Middle</text>
<text transform="translate(1558.6 430.2) rotate(-90)" font-size="55.6" fill="#3c6bb5" >segment</text>
<text transform="translate(1490.1 801.5) rotate(-90)" font-size="55.6" fill="#4ea3de" >Front</text>
<text transform="translate(1532.4 833.1) rotate(-90)" font-size="55.3" fill="#4ea3de" >segment</text>
<text x="1302.1" y="1003" font-size="56" font-style="italic" fill="#1a1718">χ</text><text x="1339.7" y="1003" font-size="56" fill="#1a1718">=</text><text x="1371.1" y="1003" font-size="56" fill="#1a1718">18 mm</text>
</g>
</svg>
</body></html>
